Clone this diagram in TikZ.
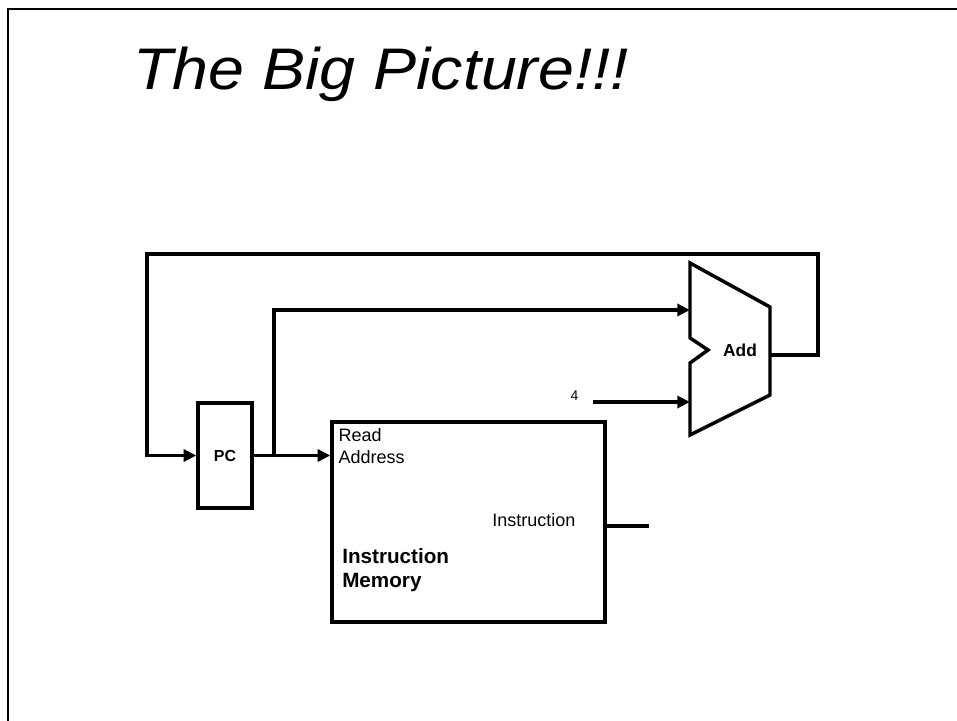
\documentclass[tikz,border=0pt]{standalone}
\usepackage{fontspec}
\setmainfont{Liberation Sans}
\usetikzlibrary{arrows.meta,positioning}

\begin{document}
\begin{tikzpicture}[x=0.75pt,y=-0.75pt,
  wire/.style={line width=2.6pt},
  arr/.style={wire,-{Triangle[length=9.5pt,width=9pt]}},
  block/.style={draw,line width=2.6pt,inner sep=0pt}]
\useasboundingbox (0,0) rectangle (957,721);
\draw[line width=1.9pt] (957,9) -- (8,9) -- (8,721);

\node[anchor=base west,inner sep=0pt,font=\itshape\fontsize{44}{50}\selectfont] (title) at (133,89) {\scalebox{1.1}[1]{The Big Picture!!!}};

% program counter and instruction memory
\node[block,minimum width=40.5pt,minimum height=78.75pt,font=\bfseries\fontsize{12}{14}\selectfont] (pc) at (225,455.5) {PC};
\node[block,minimum width=204.75pt,minimum height=150pt] (imem) at (468.5,522) {};
\node[anchor=north west,align=left,inner sep=0pt,font=\fontsize{13.5}{16.5}\selectfont] (rdaddr) at ([xshift=6pt,yshift=-6pt]imem.north west) {Read\\Address};
\node[anchor=base west,inner sep=0pt,font=\fontsize{13.5}{16}\selectfont] (instr) at (492,526) {Instruction};
\node[anchor=base west,align=left,inner sep=0pt,font=\bfseries\fontsize{15.5}{18}\selectfont] (imemlbl) at (342,587) {Instruction\\Memory};
\coordinate (instrout) at (649,526);
\draw[wire] (imem.east |- instrout) -- (instrout);

% adder
\draw[wire,line join=miter] (690,263) -- (770,307) -- (770,395) -- (690,435) -- (690,363) -- (708,350) -- (690,338) -- cycle;
\node[font=\bfseries\fontsize{13}{15}\selectfont] (add) at (740,350) {Add};
\coordinate (addinA) at (690,310);
\coordinate (addinB) at (690,402);
\coordinate (addout) at (770,355);
\node[font=\fontsize{10.5}{12}\selectfont,inner sep=1pt] (four) at (574.5,396) {4};
\coordinate (fourend) at (593,402);

% connections
\coordinate (branch) at (274,455.5);
\draw[arr] (pc.east) -- (imem.west |- pc.east);
\draw[arr] (branch) |- (addinA);
\draw[arr] (fourend) -- (addinB);
\draw[arr,line join=miter] (addout) -- (818,355) -- (818,254) -- (147,254) |- (pc.west);
\end{tikzpicture}
\end{document}
